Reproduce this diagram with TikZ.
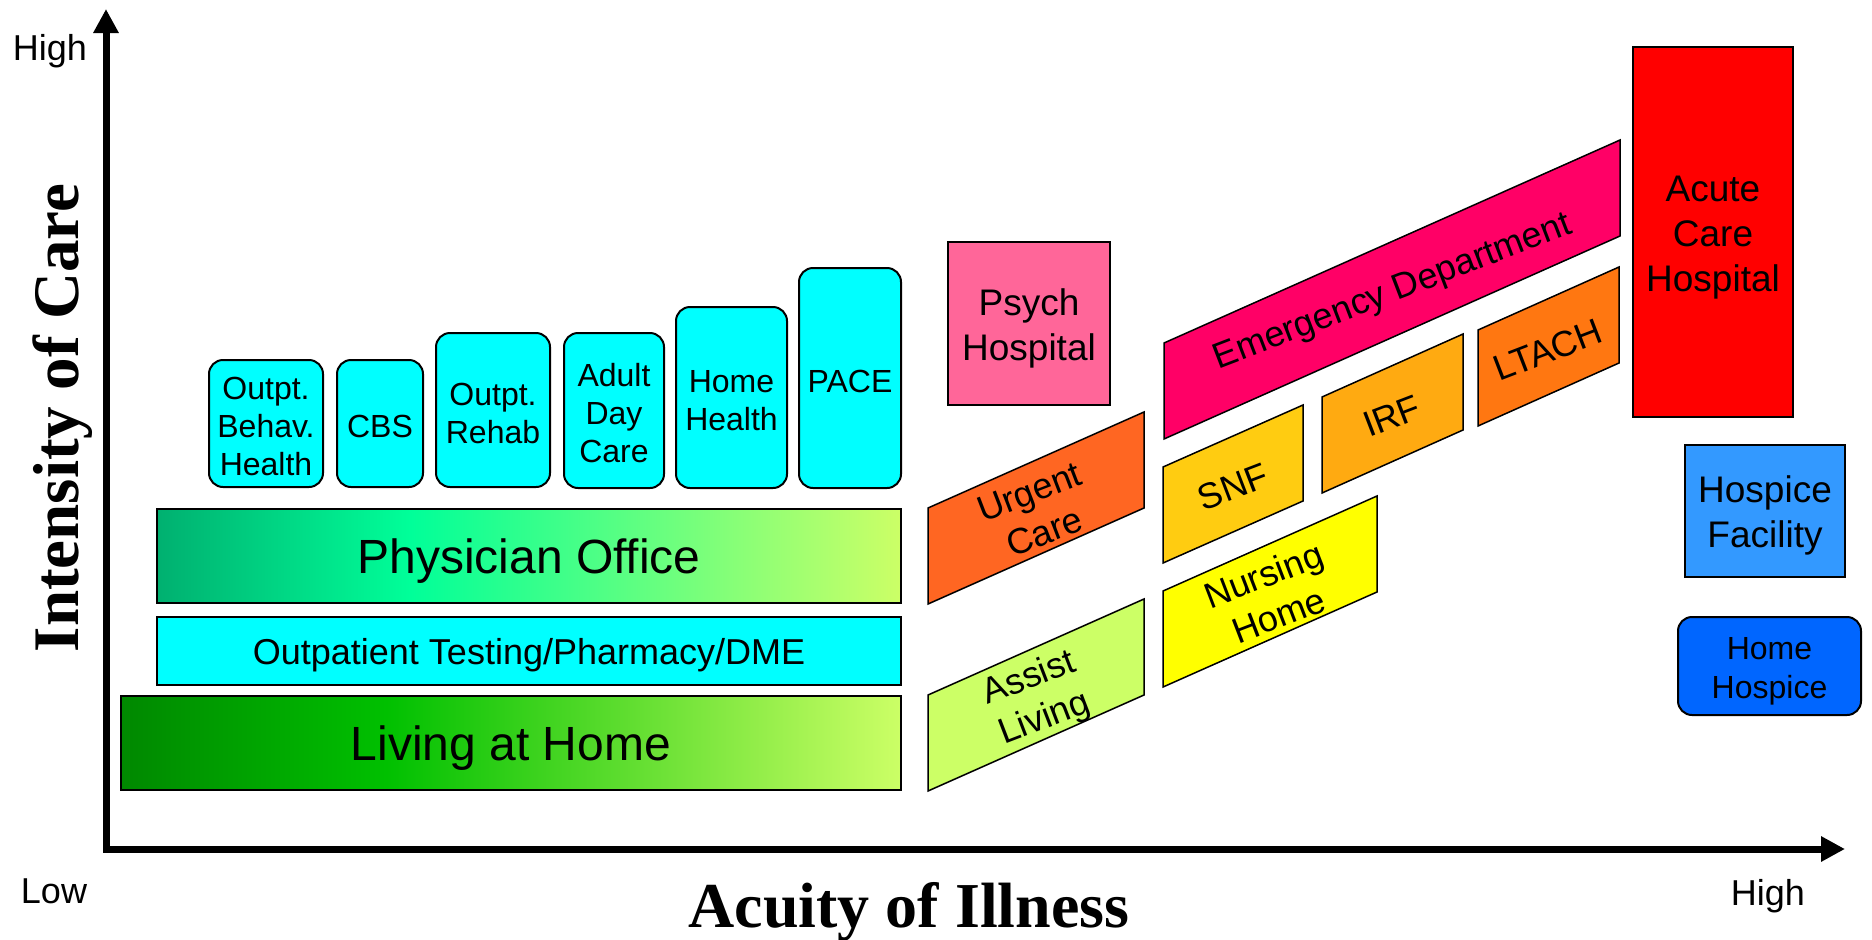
\documentclass[tikz,border=0pt]{standalone}
\usepackage{fontspec}
\setmainfont{Liberation Sans}
\newfontfamily\axisfont{Liberation Serif}
\usetikzlibrary{arrows.meta}
\definecolor{aquabox}{HTML}{00FFFF}
\definecolor{officeA}{HTML}{00B070}
\definecolor{officeB}{HTML}{00FF99}
\definecolor{officeC}{HTML}{CCFF66}
\definecolor{homeA}{HTML}{008800}
\definecolor{homeB}{HTML}{00C000}
\definecolor{homeC}{HTML}{CCFF66}
\definecolor{psychc}{HTML}{FF6699}
\definecolor{urgentc}{HTML}{FF6622}
\definecolor{assistc}{HTML}{CCFF66}
\definecolor{emergc}{HTML}{FF0066}
\definecolor{snfc}{HTML}{FFCC11}
\definecolor{irfc}{HTML}{FFAA11}
\definecolor{ltachc}{HTML}{FF7711}
\definecolor{nursingc}{HTML}{FFFF00}
\definecolor{acutec}{HTML}{FF0000}
\definecolor{hospicec}{HTML}{3399FF}
\definecolor{homehospc}{HTML}{0066FF}
\pgfdeclarehorizontalshading{officeshade}{100bp}{color(0bp)=(officeA); color(25bp)=(officeA); color(42bp)=(officeB); color(75bp)=(officeC); color(100bp)=(officeC)}
\pgfdeclarehorizontalshading{homeshade}{100bp}{color(0bp)=(homeA); color(25bp)=(homeA); color(42bp)=(homeB); color(75bp)=(homeC); color(100bp)=(homeC)}
\begin{document}
\begin{tikzpicture}[x=1pt, y=-1pt,
  axisline/.style={line width=7pt, line join=miter, {Triangle[length=24pt,width=24pt]}-{Triangle[length=24pt,width=24pt]}},
  small/.style={align=center, font=\fontsize{32}{38}\selectfont},
  big/.style={align=center, font=\fontsize{37}{45}\selectfont},
  svc/.style={draw, line width=2pt, rounded corners=14pt, fill=aquabox, inner sep=0pt},
  strip/.style={draw, line width=2pt, inner sep=0pt, minimum width=744pt},
  box/.style={draw, line width=1.5pt, inner sep=0pt},
  para/.style={draw, line width=1.5pt, line join=miter},
  paratext/.style={rotate=21, align=center, font=\fontsize{36}{43}\selectfont}]
\useasboundingbox (0,0) rectangle (1872,940);
% axes
\coordinate (ytop) at (106,9);
\coordinate (origin) at (106,849);
\coordinate (xend) at (1845,849);
\draw[axisline] (ytop) -- (origin) -- (xend);
\node[anchor=base, font=\fontsize{36}{40}\selectfont] (yhigh) at (50,60) {High};
\node[anchor=base, font=\fontsize{36}{40}\selectfont] (xlow) at (54,903) {Low};
\node[anchor=base, font=\fontsize{36}{40}\selectfont] (xhigh) at (1768,905) {High};
\node[rotate=90, anchor=base, font=\axisfont\bfseries\fontsize{65}{70}\selectfont] (ylabel) at (78,418) {Intensity of Care};
\node[anchor=base, font=\axisfont\bfseries\fontsize{64}{70}\selectfont] (xlabel) at (909,927) {Acuity of Illness};
% community services
\node[svc, minimum width=114pt, minimum height=127pt] (behav) at (266,423.5) {};
\node[small] (behavtext) at ([yshift=-3pt]behav.center) {Outpt.\\Behav.\\Health};
\node[svc, minimum width=86pt, minimum height=127pt] (cbs) at (380,423.5) {};
\node[small] (cbstext) at ([yshift=-3pt]cbs.center) {CBS};
\node[svc, minimum width=114pt, minimum height=154pt] (rehab) at (493,410) {};
\node[small] (rehabtext) at ([yshift=-3pt]rehab.center) {Outpt.\\Rehab};
\node[svc, minimum width=100pt, minimum height=155pt] (daycare) at (614,410.5) {};
\node[small] (daycaretext) at ([yshift=-3pt]daycare.center) {Adult\\Day\\Care};
\node[svc, minimum width=111pt, minimum height=181pt] (homehealth) at (731.5,397.5) {};
\node[small] (homehealthtext) at ([yshift=-3pt]homehealth.center) {Home\\Health};
\node[svc, minimum width=102pt, minimum height=220pt] (pace) at (850,378) {};
\node[small] (pacetext) at ([yshift=-3pt]pace.center) {PACE};
\node[strip, shade, shading=officeshade, minimum height=94pt] (office) at (529,556) {};
\node[font=\fontsize{48}{56}\selectfont] (officetext) at ([yshift=-5pt]office.center) {Physician Office};
\node[strip, fill=aquabox, minimum height=68pt] (testing) at (529,651) {};
\node[font=\fontsize{36}{42}\selectfont] (testingtext) at ([yshift=-4pt]testing.center) {Outpatient Testing/Pharmacy/DME};
\node[strip, shade, shading=homeshade, minimum width=780pt, minimum height=94pt] (living) at (511,743) {};
\node[font=\fontsize{48}{56}\selectfont] (livingtext) at ([yshift=-5pt]living.center) {Living at Home};
% facilities
\node[box, fill=psychc, minimum width=162pt, minimum height=163pt] (psych) at (1029,323.5) {};
\node[big] (psychtext) at ([yshift=-5pt]psych.center) {Psych\\Hospital};
\filldraw[para, fill=urgentc] (928,604) -- (928,508) -- (1144,412) -- (1144,508) -- cycle;
\node[paratext] (urgent) at (1037,512) {Urgent\\Care};
\filldraw[para, fill=assistc] (928,791) -- (928,695) -- (1144,599) -- (1144,695) -- cycle;
\node[paratext] (assist) at (1037,699) {Assist\\Living};
\filldraw[para, fill=emergc] (1164,439) -- (1164,343) -- (1620,140) -- (1620,236) -- cycle;
\node[paratext] (emerg) at (1393,293) {Emergency Department};
\filldraw[para, fill=snfc] (1163,563) -- (1163,467) -- (1303,405) -- (1303,501) -- cycle;
\node[paratext] (snf) at (1233,487) {SNF};
\filldraw[para, fill=irfc] (1322,493) -- (1322,397) -- (1463,334) -- (1463,430) -- cycle;
\node[paratext] (irf) at (1392,416) {IRF};
\filldraw[para, fill=ltachc] (1478,426) -- (1478,330) -- (1619,267) -- (1619,363) -- cycle;
\node[paratext] (ltach) at (1548,350) {LTACH};
\filldraw[para, fill=nursingc] (1163,687) -- (1163,591) -- (1377,496) -- (1377,592) -- cycle;
\node[paratext] (nursing) at (1271,595) {Nursing\\Home};
\node[box, fill=acutec, minimum width=160pt, minimum height=370pt] (acute) at (1713,232) {};
\node[big] (acutetext) at ([yshift=-6pt]acute.center) {Acute\\Care\\Hospital};
\node[box, fill=hospicec, minimum width=160pt, minimum height=132pt] (hospice) at (1765,511) {};
\node[big] (hospicetext) at ([yshift=-4pt]hospice.center) {Hospice\\Facility};
\node[box, fill=homehospc, rounded corners=14pt, line width=2pt, minimum width=183pt, minimum height=98pt] (homehospice) at (1769.5,666) {};
\node[small, font=\fontsize{32}{39}\selectfont] (homehospicetext) at ([yshift=-5pt]homehospice.center) {Home\\Hospice};
\end{tikzpicture}
\end{document}
